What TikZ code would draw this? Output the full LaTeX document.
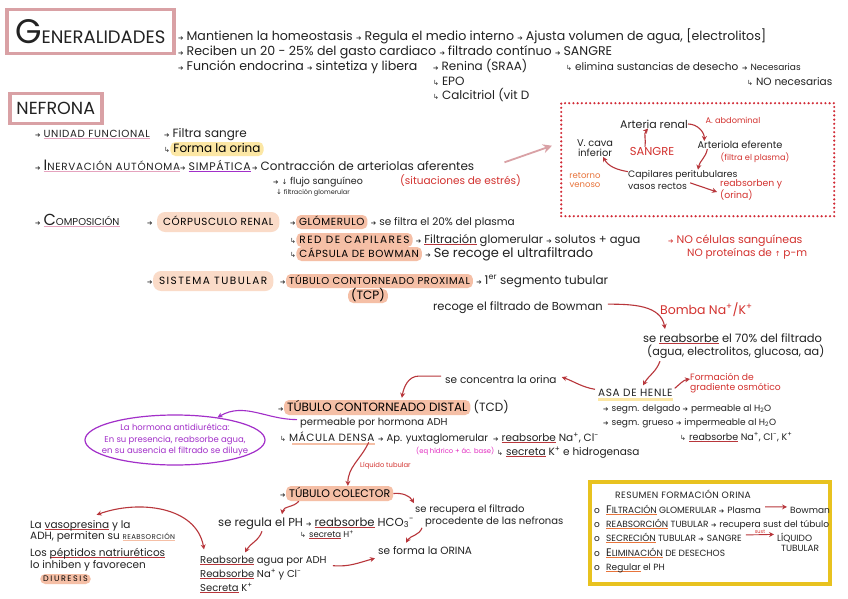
\documentclass[tikz,border=0pt]{standalone}
\usepackage{fontspec}
\setmainfont{Poppins}
\newfontfamily\symf{DejaVu Sans}
\usetikzlibrary{arrows.meta, positioning, shapes.geometric, calc}

\definecolor{ink}     {HTML}{222222}
\definecolor{pinkbox} {HTML}{D9A1A5}
\definecolor{pinkul}  {HTML}{E5A3BE}
\definecolor{peach}   {HTML}{FADBC8}
\definecolor{peachd}  {HTML}{F5BFA6}
\definecolor{yelhl}   {HTML}{FCE7A4}
\definecolor{yelbox}  {HTML}{E8C21F}
\definecolor{redarr}  {HTML}{B8363B}
\definecolor{redtxt}  {HTML}{D3322F}
\definecolor{dotred}  {HTML}{D12A35}
\definecolor{purp}    {HTML}{A22FC9}
\definecolor{magen}   {HTML}{E22AC0}
\definecolor{orng}    {HTML}{E8743B}

\newsavebox{\ulbox}
\newcommand{\toarr}{{\symf\fontsize{6.5}{7}\selectfont ➔}\hspace{3pt}}
\newcommand{\hookarr}{{\symf\fontsize{7}{7}\selectfont ↳}\hspace{3pt}}
\newcommand{\downarr}{{\symf\fontsize{7}{7}\selectfont ↓}}
\newcommand{\uparr}{{\symf\fontsize{7}{7}\selectfont ↑}}
\newcommand{\ulc}[2]{\sbox{\ulbox}{#2}\rlap{\color{#1}\rule[-2.2pt]{\wd\ulbox}{0.8pt}}\usebox{\ulbox}}
\newcommand{\fs}[1]{\fontsize{#1}{#1}\selectfont}
\newcommand{\spread}[1][6]{\addfontfeature{LetterSpace=#1}}

\begin{document}
\begin{tikzpicture}[
  x=1pt, y=1pt,
  txt/.style ={anchor=base west, inner sep=0pt, text=ink, font=\fontsize{12}{14}\selectfont},
  sm/.style  ={txt, font=\fontsize{10.5}{12}\selectfont},
  tiny/.style={txt, font=\fontsize{9}{10}\selectfont},
  red/.style ={text=redtxt},
  hl/.style  ={fill=peachd, rounded corners=5pt, inner xsep=3pt, inner ysep=2.5pt,
               text height=7.5pt, text depth=1.5pt, anchor=base west},
  hlb/.style ={hl, fill=peach, rounded corners=8pt, inner xsep=6pt, inner ysep=5.5pt},
  head/.style={draw=pinkbox, line width=3.5pt, fill=white, anchor=north west, text=ink},
  inbox/.style={anchor=center, inner sep=0pt, align=center, text=ink},
  rarr/.style={-{Stealth[length=5pt, width=5pt]}, draw=redarr, line width=1.1pt},
]
\useasboundingbox (0,0) rectangle (848,-599);
\fill[white] (0,0) rectangle (848,-599);

% --- generalidades ---------------------------------------------
\node[head, minimum width=167pt, minimum height=44pt] (gen) at (5,-8)
  {{\fs{34}G}{\fs{18}ENERALIDADES}};
\node[txt, font=\fs{12.6}] (g1) at (178,-41) {\toarr Mantienen la homeostasis \toarr Regula el medio interno \toarr Ajusta volumen de agua, [electrolitos]};
\node[txt, font=\fs{12.6}] (g2) at (178,-56) {\toarr Reciben un 20 - 25\% del gasto cardiaco \toarr filtrado contínuo \toarr SANGRE};
\node[txt, font=\fs{12.6}] (g3) at (178,-71) {\toarr Función endocrina \toarr sintetiza y libera};
\node[txt] (ren) at (433,-71) {\toarr Renina (SRAA)};
\node[txt] (epo) at (433,-86) {\hookarr EPO};
\node[txt] (cal) at (433,-100) {\hookarr Calcitriol (vit D};
\node[sm]  (eli) at (566,-71) {\hookarr elimina sustancias de desecho};
\node[tiny](nec) at (742,-71) {\toarr Necesarias};
\node[sm]  (noe) at (747,-86) {\hookarr NO necesarias};

% --- nefrona ---------------------------------------------------
\node[head, minimum width=92pt, minimum height=30pt] (nef) at (8,-92) {\fs{17.5}NEFRONA};
\node[txt] (uf)  at (35,-137) {\toarr{\fs{10.3}\spread\ulc{pinkul}{UNIDAD FUNCIONAL}}};
\node[txt] (fsa) at (164,-137) {\toarr Filtra sangre};
\node[txt] (foa) at (164,-152) {\hookarr};
\node[hl, fill=yelhl, font=\fs{12}] (fo) at (foa.base east) {Forma la orina};
\node[txt] (ina) at (35,-170) {\toarr\ulc{pinkul}{{\fs{15}I}{\fs{10.4}\spread[7]NERVACIÓN AUTÓNOMA}}};
\node[txt] (sim) at (180,-170) {\toarr{\fs{11}\spread\ulc{purp}{SIMPÁTICA}}};
\node[txt] (con) at (252,-170) {\toarr Contracción de arteriolas aferentes};
\node[txt, font=\fs{9.5}] (flu) at (273,-184) {\toarr\downarr\ flujo sanguíneo};
\node[txt, font=\fs{6.5}] (fil) at (276,-194) {\downarr\ filtración glomerular};
\node[sm, red] (est) at (400,-184) {(situaciones de estrés)};

% --- circulación renal -----------------------------------------
\node[draw=dotred, line width=2.4pt, dash pattern=on 0pt off 4.2pt, line cap=round,
      minimum width=273pt, minimum height=113pt, anchor=north west] (circ) at (560,-102) {};
\draw[-{Stealth[length=9pt, width=9pt]}, draw=pinkbox, line width=1.8pt]
  ([xshift=30pt, yshift=3pt]con.east) -- ([xshift=-8pt, yshift=14pt]circ.west);
\node[inbox, font=\fs{11}] (art) at (654,-124) {Arteria renal};
\node[inbox, font=\fs{8.2}, red] (abd) at (733,-120) {A. abdominal};
\node[inbox, font=\fontsize{9.8}{10.5}\selectfont] (vca) at (595,-148) {V. cava\\inferior};
\node[inbox, font=\fs{11.5}, red] (sng) at (652,-151) {SANGRE};
\node[inbox, font=\fs{9.8}] (aef) at (740,-145) {Arteriola eferente};
\node[inbox, font=\fs{8.2}, red] (fpl) at (755,-158) {(filtra el plasma)};
\node[txt, font=\fs{9.3}] (cap1) at (628,-177) {Capilares peritubulares};
\node[txt, font=\fs{9.3}] (cap2) at (628,-189) {vasos rectos};
\node[inbox, font=\fontsize{8.5}{9.5}\selectfont, text=orng] (ret) at (585,-180) {retorno\\venoso};
\node[inbox, font=\fontsize{9.3}{11}\selectfont, red, align=left, anchor=west] (rea) at (720,-190) {reabsorben y\\(orina)};
\draw[rarr] ([xshift=-7pt]sng.north) to[out=80, in=230] ([xshift=-6pt]art.south);
\draw[rarr] (art.east) to[out=0, in=90] ([xshift=7pt]aef.north west);
\draw[rarr] ([xshift=10pt]aef.south west) to[out=260, in=80] ([xshift=70pt]cap1.north west);
\draw[rarr] ([yshift=3pt]cap1.west) to[out=170, in=-60] ([xshift=8pt]vca.south);
\draw[rarr] ([xshift=3pt, yshift=3pt]cap2.east) -- ([xshift=-3pt, yshift=-2pt]rea.west);

% --- composición -----------------------------------------------
\node[txt] (com) at (35,-225) {\toarr\ulc{pinkul}{{\fs{16}C}{\fs{10}OMPOSICIÓN}}};
\node[txt] (cra) at (147,-225) {\toarr};
\node[hlb, font={\fs{10.3}\spread}] (crp) at ([xshift=4pt]cra.base east) {CÓRPUSCULO RENAL};
\node[txt] (ga) at (290,-225) {\toarr};
\node[hl, font={\fs{10.3}\spread}] (glo) at (ga.base east) {GLÓMERULO};
\node[txt, font=\fs{10.5}] (gt) at ([xshift=3pt]glo.base east) {\toarr se filtra el 20\% del plasma};
\node[txt] (ra) at (290,-243) {\hookarr};
\node[hl, font={\fs{10.5}\spread[14]}] (rdc) at (ra.base east) {RED DE CAPILARES};
\node[txt, font=\fs{11.5}] (rt) at ([xshift=3pt]rdc.base east) {\toarr\ulc{redarr}{Filtración} glomerular \toarr solutos + agua};
\node[txt, red, font=\fs{11}] (nc1) at (668,-243) {\toarr NO células sanguíneas};
\node[txt] (ca) at (290,-257) {\hookarr};
\node[hl, font={\fs{10.3}\spread}] (cbw) at (ca.base east) {CÁPSULA DE BOWMAN};
\node[txt, font=\fs{13}] (ct) at ([xshift=3pt]cbw.base east) {\toarr Se recoge el ultrafiltrado};
\node[sm, red] (nc2) at (687,-256) {NO proteínas de \uparr\ p-m};

% --- sistema tubular: TCP --------------------------------------
\node[txt] (sa) at (147,-284) {\toarr};
\node[hlb, font={\fs{10.5}\spread[14]}] (sis) at (sa.base east) {SISTEMA TUBULAR};
\node[txt] (pa) at (280,-284) {\toarr};
\node[hl, font={\fs{10}\spread}] (tcp) at (pa.base east) {TÚBULO CONTORNEADO PROXIMAL};
\node[txt] (tcpt) at ([xshift=3pt]tcp.base east) {\toarr 1\textsuperscript{er} segmento tubular};
\node[hl, anchor=base, font=\fs{12}] (tcpb) at (368,-299) {(TCP)};
\node[txt, font=\fs{11.5}] (rec) at (433,-310) {recoge el filtrado de Bowman};
\node[txt, red, font=\fs{12.5}] (bom) at (660,-314) {Bomba Na\textsuperscript{+}/K\textsuperscript{+}};
\node[txt, font=\fs{11.5}] (r70) at (643,-342) {se \ulc{redarr}{reabsorbe} el 70\% del filtrado};
\node[txt, font=\fs{11.2}] (r70b) at (647,-355) {(agua, electrolitos, glucosa, aa)};
\draw[rarr] ([xshift=5pt, yshift=3pt]rec.east) to[out=0, in=100] ([xshift=22pt, yshift=4pt]r70.north west);

% --- asa de Henle ----------------------------------------------
\node[txt, font={\fs{10.5}\spread}] (asa) at (598,-396) {ASA DE HENLE};
\draw[draw=yelhl, line width=2.5pt] ([yshift=-3pt]asa.south west) -- ([yshift=-3pt]asa.south east);
\node[inbox, font=\fontsize{9.2}{10.5}\selectfont, red, align=left, anchor=west] (gra) at (690,-383) {Formación de\\gradiente osmótico};
\node[sm] (conc) at (445,-383) {se concentra la orina};
\draw[rarr] ([xshift=13pt, yshift=-3pt]r70b.south west) to[out=250, in=60] ([xshift=45pt, yshift=3pt]asa.north west);
\draw[rarr] ([xshift=2pt, yshift=4pt]asa.east) to[out=40, in=190] ([yshift=4pt]gra.west);
\draw[rarr] ([xshift=-3pt, yshift=3pt]asa.west) to[out=170, in=-20] ([xshift=5pt, yshift=2pt]conc.east);
\node[tiny] (sd) at (603,-411) {\toarr segm. delgado \toarr permeable al H\textsubscript{2}O};
\node[tiny] (sg) at (603,-425) {\toarr segm. grueso \toarr impermeable al H\textsubscript{2}O};
\node[txt, font=\fs{9.5}] (srb) at (680,-440) {\hookarr\ulc{redarr}{reabsorbe} Na\textsuperscript{+}, Cl\textsuperscript{-}, K\textsuperscript{+}};

% --- TCD -------------------------------------------------------
\node[txt] (tda) at (278,-411) {\toarr};
\node[hl, font=\fs{12}, text height=8.5pt] (tcd) at (tda.base east) {TÚBULO CONTORNEADO DISTAL};
\node[txt] (tcdt) at ([xshift=3pt]tcd.base east) {(TCD)};
\draw[rarr] ([xshift=-4pt, yshift=3pt]conc.west) -- ++(-22,0) to[out=180, in=80] ([xshift=118pt, yshift=2pt]tcd.north west);
\node[txt, font=\fs{10}] (perm) at (300,-425) {permeable por hormona ADH};
\node[txt] (mda) at (280,-441) {\hookarr{\fs{10.5}\spread MÁCULA DENSA}};
\draw[draw=peachd, line width=1.6pt] ([xshift=12pt, yshift=-2.5pt]mda.south west) -- ([yshift=-2.5pt]mda.south east);
\node[txt, font=\fs{10}] (yux) at (378,-441) {\toarr Ap. yuxtaglomerular};
\node[txt, font=\fs{6.8}, text=magen] (eqh) at (416,-453) {(eq hídrico + ác. base)};
\node[txt, font=\fs{10.5}] (rna) at (493,-441) {\toarr\ulc{redarr}{reabsorbe} Na\textsuperscript{+}, Cl\textsuperscript{-}};
\node[txt, font=\fs{10.5}] (sec) at (497,-455) {\hookarr\ulc{redarr}{secreta} K\textsuperscript{+} e hidrogenasa};

% --- hormona antidiurética -------------------------------------
\node[ellipse, draw=purp, line width=1.2pt, minimum width=180pt, minimum height=50pt] (adh) at (175,-440) {};
\node[inbox, text=purp, font=\fontsize{8.5}{11.5}\selectfont] (adht) at (adh.center)
  {La hormona antidiurética:\\En su presencia, reabsorbe agua,\\en su ausencia el filtrado se diluye};
\draw[-{Stealth[length=5pt, width=5pt]}, draw=purp, line width=1.1pt]
  ([xshift=-3pt, yshift=3pt]perm.west) to[out=180, in=30] (adh.28);

% --- túbulo colector -------------------------------------------
\node[txt, red, font=\fs{6.8}] (liq) at (360,-467) {Líquido tubular};
\node[txt] (cla) at (280,-497) {\toarr};
\node[hl, font=\fs{11}, text height=8.5pt] (col) at (cla.base east) {TÚBULO COLECTOR};
\draw[rarr] ([xshift=-6pt, yshift=-1pt]mda.south east) to[out=245, in=90] ([xshift=62pt]col.north west);
\node[txt, font=\fs{10}] (rec1) at (415,-512) {se recupera el filtrado};
\node[txt, font=\fs{10}] (rec2) at (425,-524) {procedente de las nefronas};
\node[sm] (ori)  at (378,-554) {se forma la ORINA};
\draw[rarr] (col.east) to[out=5, in=120] ([xshift=-1pt, yshift=1pt]rec1.north west);
\draw[rarr] ([xshift=-3pt, yshift=-1pt]rec2.south west) to[out=250, in=60] ([xshift=28pt, yshift=3pt]ori.north west);
\node[txt, font=\fs{11.6}] (ph) at (218,-526) {se regula el PH \toarr\ulc{redarr}{reabsorbe} HCO\textsubscript{3}\textsuperscript{-}};
\node[txt, font=\fs{8.5}] (sh) at (300,-537) {\hookarr\ulc{redarr}{secreta} H\textsuperscript{+}};
\draw[rarr] ([xshift=13pt]col.south west) to[out=230, in=80] ([xshift=64pt, yshift=3pt]ph.north west);
\node[txt, font=\fs{10}] (ra1) at (200,-563) {\ulc{redarr}{Reabsorbe} agua por ADH};
\node[txt, font=\fs{10}] (ra2) at (200,-577) {\ulc{redarr}{Reabsorbe} Na\textsuperscript{+} y Cl\textsuperscript{-}};
\node[txt, font=\fs{10}] (ra3) at (200,-591) {\ulc{redarr}{Secreta} K\textsuperscript{+}};
\draw[rarr] ([xshift=44pt, yshift=-2pt]ph.south west) to[out=250, in=60] ([xshift=45pt, yshift=3pt]ra1.north west);
\draw[rarr] ([xshift=6pt, yshift=-5pt]ra1.east) to[out=-5, in=195] ([xshift=-3pt, yshift=-4pt]ori.south west);

% --- vasopresina / péptidos ------------------------------------
\node[sm] (vas)  at (30,-528) {La \ulc{redarr}{vasopresina} y la};
\node[sm] (adh2) at (30,-539) {ADH, permiten su {\fs{7}\spread\ulc{peachd}{REABSORCIÓN}}};
\node[sm] (pep)  at (30,-556) {Los \ulc{redarr}{péptidos natriuréticos}};
\node[sm] (inh)  at (30,-568) {lo inhiben y favorecen};
\node[hl, font={\fs{8}\spread[20]}, text height=5.5pt, inner ysep=1.5pt] (diu) at (40,-581) {DIURESIS};
\draw[{Stealth[length=5pt, width=5pt]}-{Stealth[length=5pt, width=5pt]}, draw=redarr, line width=1.1pt]
  ([xshift=-34pt, yshift=5pt]vas.north east) to[out=20, in=100] ([xshift=4pt, yshift=6pt]ra1.north west);

% --- resumen ---------------------------------------------------
\node[draw=yelbox, line width=4pt, minimum width=240pt, minimum height=102pt, anchor=north west] (res) at (588,-480) {};
\node[txt, font={\fs{9.2}\spread[4]}] (rtit) at (615,-498) {RESUMEN FORMACIÓN ORINA};
\foreach \y in {513,527,541,556,570}
  \node[tiny] (b\y) at (594,-\y) {o};
\node[tiny] (i1) at (606,-513) {\ulc{orng}{{\fs{11}F}ILTRACIÓN} GLOMERULAR \toarr Plasma};
\node[tiny] (bow) at (790,-513) {Bowman};
\draw[rarr, line width=0.9pt] ([xshift=4pt, yshift=3pt]i1.east) -- ([xshift=-3pt, yshift=3pt]bow.west);
\node[tiny] (i2) at (606,-527) {\ulc{orng}{REABSORCIÓN} TUBULAR \toarr recupera sust del túbulo};
\node[tiny] (i3) at (606,-541) {\ulc{orng}{SECRECIÓN} TUBULAR \toarr SANGRE};
\node[tiny] (lq1) at (777,-541) {LÍQUIDO};
\node[tiny] (lq2) at (781,-551) {TUBULAR};
\draw[rarr, line width=0.9pt] ([xshift=4pt, yshift=3pt]i3.east) -- node[above, inner sep=1pt, font=\fs{5}, text=redtxt] {sust} ([xshift=-3pt, yshift=3pt]lq1.west);
\node[tiny] (i4) at (606,-556) {\ulc{orng}{{\fs{11}E}LIMINACIÓN} DE DESECHOS};
\node[tiny] (i5) at (606,-570) {\ulc{orng}{Regular} el PH};
\end{tikzpicture}
\end{document}
